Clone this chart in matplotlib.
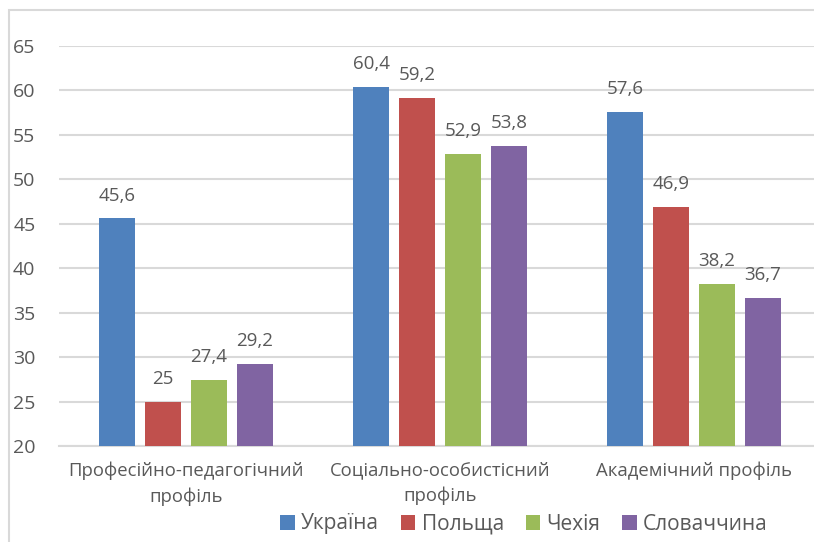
import numpy as np
import matplotlib.pyplot as plt
from matplotlib.patches import Rectangle

categories = ['Професійно-педагогічний\nпрофіль', 'Соціально-особистісний\nпрофіль', 'Академічний профіль']
countries = ['Україна', 'Польща', 'Чехія', 'Словаччина']
values = {
    'Україна': [45.6, 60.4, 57.6],
    'Польща': [25, 59.2, 46.9],
    'Чехія': [27.4, 52.9, 38.2],
    'Словаччина': [29.2, 53.8, 36.7],
}
colors = ['#4F81BD', '#C0504D', '#9BBB59', '#8064A2']
yticks = [20, 25, 30, 35, 40, 45, 50, 55, 60, 65]

plt.rcParams['font.family'] = ['Open Sans', 'DejaVu Sans']
text_color = '#595959'

fig = plt.figure(figsize=(8.14, 5.42), dpi=100)
ax = fig.add_axes([59 / 814, 1 - 446 / 542, 762 / 814, 400 / 542])

x = np.arange(len(categories))
width = 36 / 254
step = 46 / 254
for i, (name, col) in enumerate(zip(countries, colors)):
    pos = x + (i - 1.5) * step
    vals = values[name]
    ax.bar(pos, np.array(vals) - 20, width, bottom=20, color=col, label=name, zorder=3)
    for p, v in zip(pos, vals):
        ax.annotate(str(v).replace('.', ','), (p, v), xytext=(0, 10), textcoords='offset points',
                    ha='center', va='bottom', fontsize=13.5, color=text_color)

ax.set_xlim(-0.5, 2.5)
ax.set_ylim(20, 65)
ax.set_yticks(yticks)
ax.set_xticks(x)
ax.set_xticklabels(categories, fontsize=13.3, color=text_color, linespacing=1.5)
ax.tick_params(axis='y', length=0, pad=17, labelsize=14, labelcolor=text_color)
ax.tick_params(axis='x', length=0, pad=11)
ax.grid(axis='y', color='#D9D9D9', linewidth=1.5, zorder=0)
for s in ['top', 'right', 'left']:
    ax.spines[s].set_visible(False)
ax.spines['bottom'].set_color('#D9D9D9')
ax.spines['bottom'].set_linewidth(1.5)

leg = fig.legend(loc='center', bbox_to_anchor=(524 / 814, 1 - 524 / 542), ncol=4, frameon=False,
                 fontsize=15, handlelength=0.7, handleheight=0.7, handletextpad=0.3,
                 columnspacing=1.05)
for t in leg.get_texts():
    t.set_color(text_color)

fig.patches.append(Rectangle((9 / 814, -0.1), 1.2, 1 - 10 / 542 + 0.1, transform=fig.transFigure,
                             fill=False, edgecolor='#D9D9D9', linewidth=1.5))

fig.savefig('out.png', dpi=100)
